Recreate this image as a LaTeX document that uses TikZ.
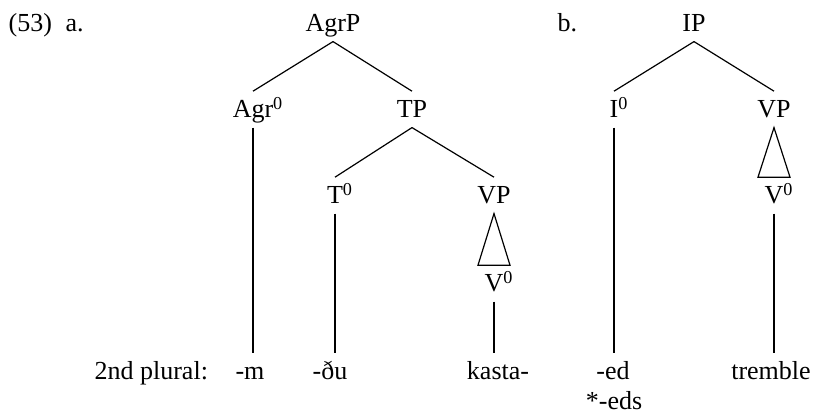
\documentclass[tikz,border=0pt]{standalone}
\usepackage{fontspec}
\setmainfont{Liberation Serif}
\usepackage{tikz}

\newcommand{\zero}[1]{#1\rlap{\textsuperscript{0}}} % head with superscript 0

\begin{document}
\begin{tikzpicture}[x=0.5pt,y=-0.5pt, line width=0.6pt,
    every node/.style={font=\fontsize{13}{15}\selectfont},
    cat/.style={anchor=base, inner xsep=0pt, inner ysep=4.5pt, text height=8.6pt, text depth=0pt}]
    \useasboundingbox (0,0) rectangle (816,415);

    % 例句编号
    \node[anchor=base west, inner sep=0pt] (num) at (8,32) {(53)};
    \node[anchor=base west, inner sep=0pt] (la) at (65,32) {a.};
    \node[anchor=base west, inner sep=0pt] (lb) at (557,32) {b.};

    % 树 a
    \node[cat] (AgrP) at (333,32) {AgrP};
    \node[cat] (Agr) at (253,118) {\zero{Agr}};
    \node[cat] (TP) at (412,118) {TP};
    \node[cat] (T) at (335,204) {\zero{T}};
    \node[cat] (VPa) at (494,204) {VP};
    \node[cat] (Va) at (494,292) {\zero{V}};

    % 树 b
    \node[cat] (IP) at (694,32) {IP};
    \node[cat] (I) at (614,118) {\zero{I}};
    \node[cat] (VPb) at (774,118) {VP};
    \node[cat] (Vb) at (774,204) {\zero{V}};

    % 最底下一行的词形
    \node[anchor=base west, inner sep=0pt] (plural) at (94,380) {2nd plural:};
    \node[cat] (m) at (250,380) {-m};
    \node[cat] (du) at (330,380) {-ðu};
    \node[cat] (kasta) at (498,380) {kasta-};
    \node[cat] (ed) at (613,380) {-ed};
    \node[anchor=base, inner sep=0pt] (eds) at (614,410) {*-eds};
    \node[cat] (tremble) at (771,380) {tremble};

    % 树枝
    \draw (AgrP.south) -- (Agr.north);
    \draw (AgrP.south) -- (TP.north);
    \draw (TP.south) -- (T.north);
    \draw (TP.south) -- (VPa.north);
    \draw (VPa.south) -- ([xshift=-8pt]Va.north) -- ([xshift=8pt]Va.north) -- cycle; % 三角形
    \draw (IP.south) -- (I.north);
    \draw (IP.south) -- (VPb.north);
    \draw (VPb.south) -- ([xshift=-8pt]Vb.north) -- ([xshift=8pt]Vb.north) -- cycle;

    % 竖线连到词形
    \draw (Agr.south) -- (Agr.south |- m.north);
    \draw (T.south) -- (T.south |- du.north);
    \draw (Va.south) -- (Va.south |- kasta.north);
    \draw (I.south) -- (I.south |- ed.north);
    \draw (Vb.south) -- (Vb.south |- tremble.north);
\end{tikzpicture}
\end{document}
